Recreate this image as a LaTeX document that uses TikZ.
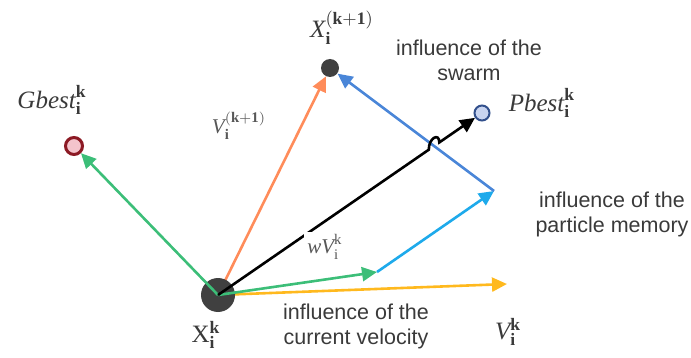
\documentclass[tikz,border=0pt]{standalone}
\usepackage{fontspec}
\setmainfont{Liberation Serif}
\setsansfont{Liberation Sans}
\usetikzlibrary{arrows.meta,calc,backgrounds}
\definecolor{txt}{RGB}{58,58,58}
\definecolor{dotgray}{RGB}{64,64,64}
\definecolor{vgreen}{RGB}{60,190,120}
\definecolor{vorange}{RGB}{255,140,90}
\definecolor{vcyan}{RGB}{30,170,235}
\definecolor{vblue}{RGB}{74,134,216}
\definecolor{vyellow}{RGB}{255,185,30}
\definecolor{gbr}{RGB}{140,26,36}
\definecolor{gbf}{RGB}{244,196,204}
\definecolor{pbb}{RGB}{50,80,140}
\definecolor{pbf}{RGB}{200,212,240}
\tikzset{
  vec/.style={line width=1.3pt,-{Triangle[length=7.5pt,width=7pt]}},
  lbl/.style={font=\sffamily\fontsize{10.75}{12.5}\selectfont,text=txt,align=center,inner sep=0pt},
  mlbl/.style={font=\fontsize{12.5}{14}\selectfont,text=txt,inner sep=0pt},
  slbl/.style={font=\fontsize{10.5}{12}\selectfont,text=txt!85,inner sep=1.5pt},
  bigdot/.style={circle,fill=dotgray,inner sep=0pt,minimum size=17pt},
  smalldot/.style={circle,fill=dotgray,inner sep=0pt,minimum size=9pt},
  gbcirc/.style={circle,draw=gbr,fill=gbf,line width=1.5pt,inner sep=0pt,minimum size=8.5pt},
  pbcirc/.style={circle,draw=pbb,fill=pbf,line width=1pt,inner sep=0pt,minimum size=7.5pt}
}
\begin{document}
\begin{tikzpicture}[x=0.5pt,y=-0.5pt]
\useasboundingbox (0,0) rectangle (691,358);
% points
\node[bigdot] (o) at (218,295) {};
\node[gbcirc] (gb) at (74,146) {};
\node[smalldot] (x1) at (330,68) {};
\node[pbcirc] (pb) at (482,113) {};
\coordinate (c1) at (377,272);
\coordinate (c2) at (494,191);
\coordinate (vend) at (507,284);
% vectors behind the particle
\begin{scope}[on background layer]
\draw[vec,vorange] (o.center) -- (x1);
\draw[vec,vyellow] (o.center) -- (vend);
\end{scope}
\draw[vec,vgreen] (o.center) -- (gb);
\draw[vec,vgreen] (o.center) -- (c1);
\draw[vec,vcyan] (c1) -- (c2);
\draw[vec,vblue] (c2) -- (x1);
% black vector with line jump
\coordinate (hop) at (intersection of o.center--pb.center and c2--x1.center);
\coordinate (hA) at ($(hop)!3.2pt!(o.center)$);
\coordinate (hB) at ($(hop)!3.2pt!(pb.center)$);
\draw[vec,black] (o.center) -- (hA) .. controls ($(hA)+(0,-12)$) and ($(hB)+(0,-10)$) .. (hB) -- (pb);
% labels
\node[mlbl] (tgb) at (52,100) {$\mathit{Gbest}_{\mathbf{i}}^{\mathbf{k}}$};
\node[mlbl] (tx1) at (342,28) {$\mathit{X}_{\mathbf{i}}^{\mathbf{(k+1)}}$};
\node[lbl] (tsw) at (469,60) {influence of the\\swarm};
\node[mlbl] (tpb) at (542,103) {$\mathit{Pbest}_{\mathbf{i}}^{\mathbf{k}}$};
\node[slbl] (tv1) at (239,126) {$\mathit{V}_{\mathbf{i}}^{\mathbf{(k+1)}}$};
\node[slbl,fill=white] (twv) at (325,247) {$\mathit{wV}_{\mathrm{i}}^{\mathrm{k}}$};
\node[lbl] (tpm) at (612,214) {influence of the\\particle memory};
\node[mlbl] (tx0) at (206,335) {$\mathrm{X}_{\mathbf{i}}^{\mathbf{k}}$};
\node[lbl] (tcv) at (356,326) {influence of the\\current velocity};
\node[mlbl] (tvk) at (508,332) {$\mathit{V}_{\mathbf{i}}^{\mathbf{k}}$};
\end{tikzpicture}
\end{document}
